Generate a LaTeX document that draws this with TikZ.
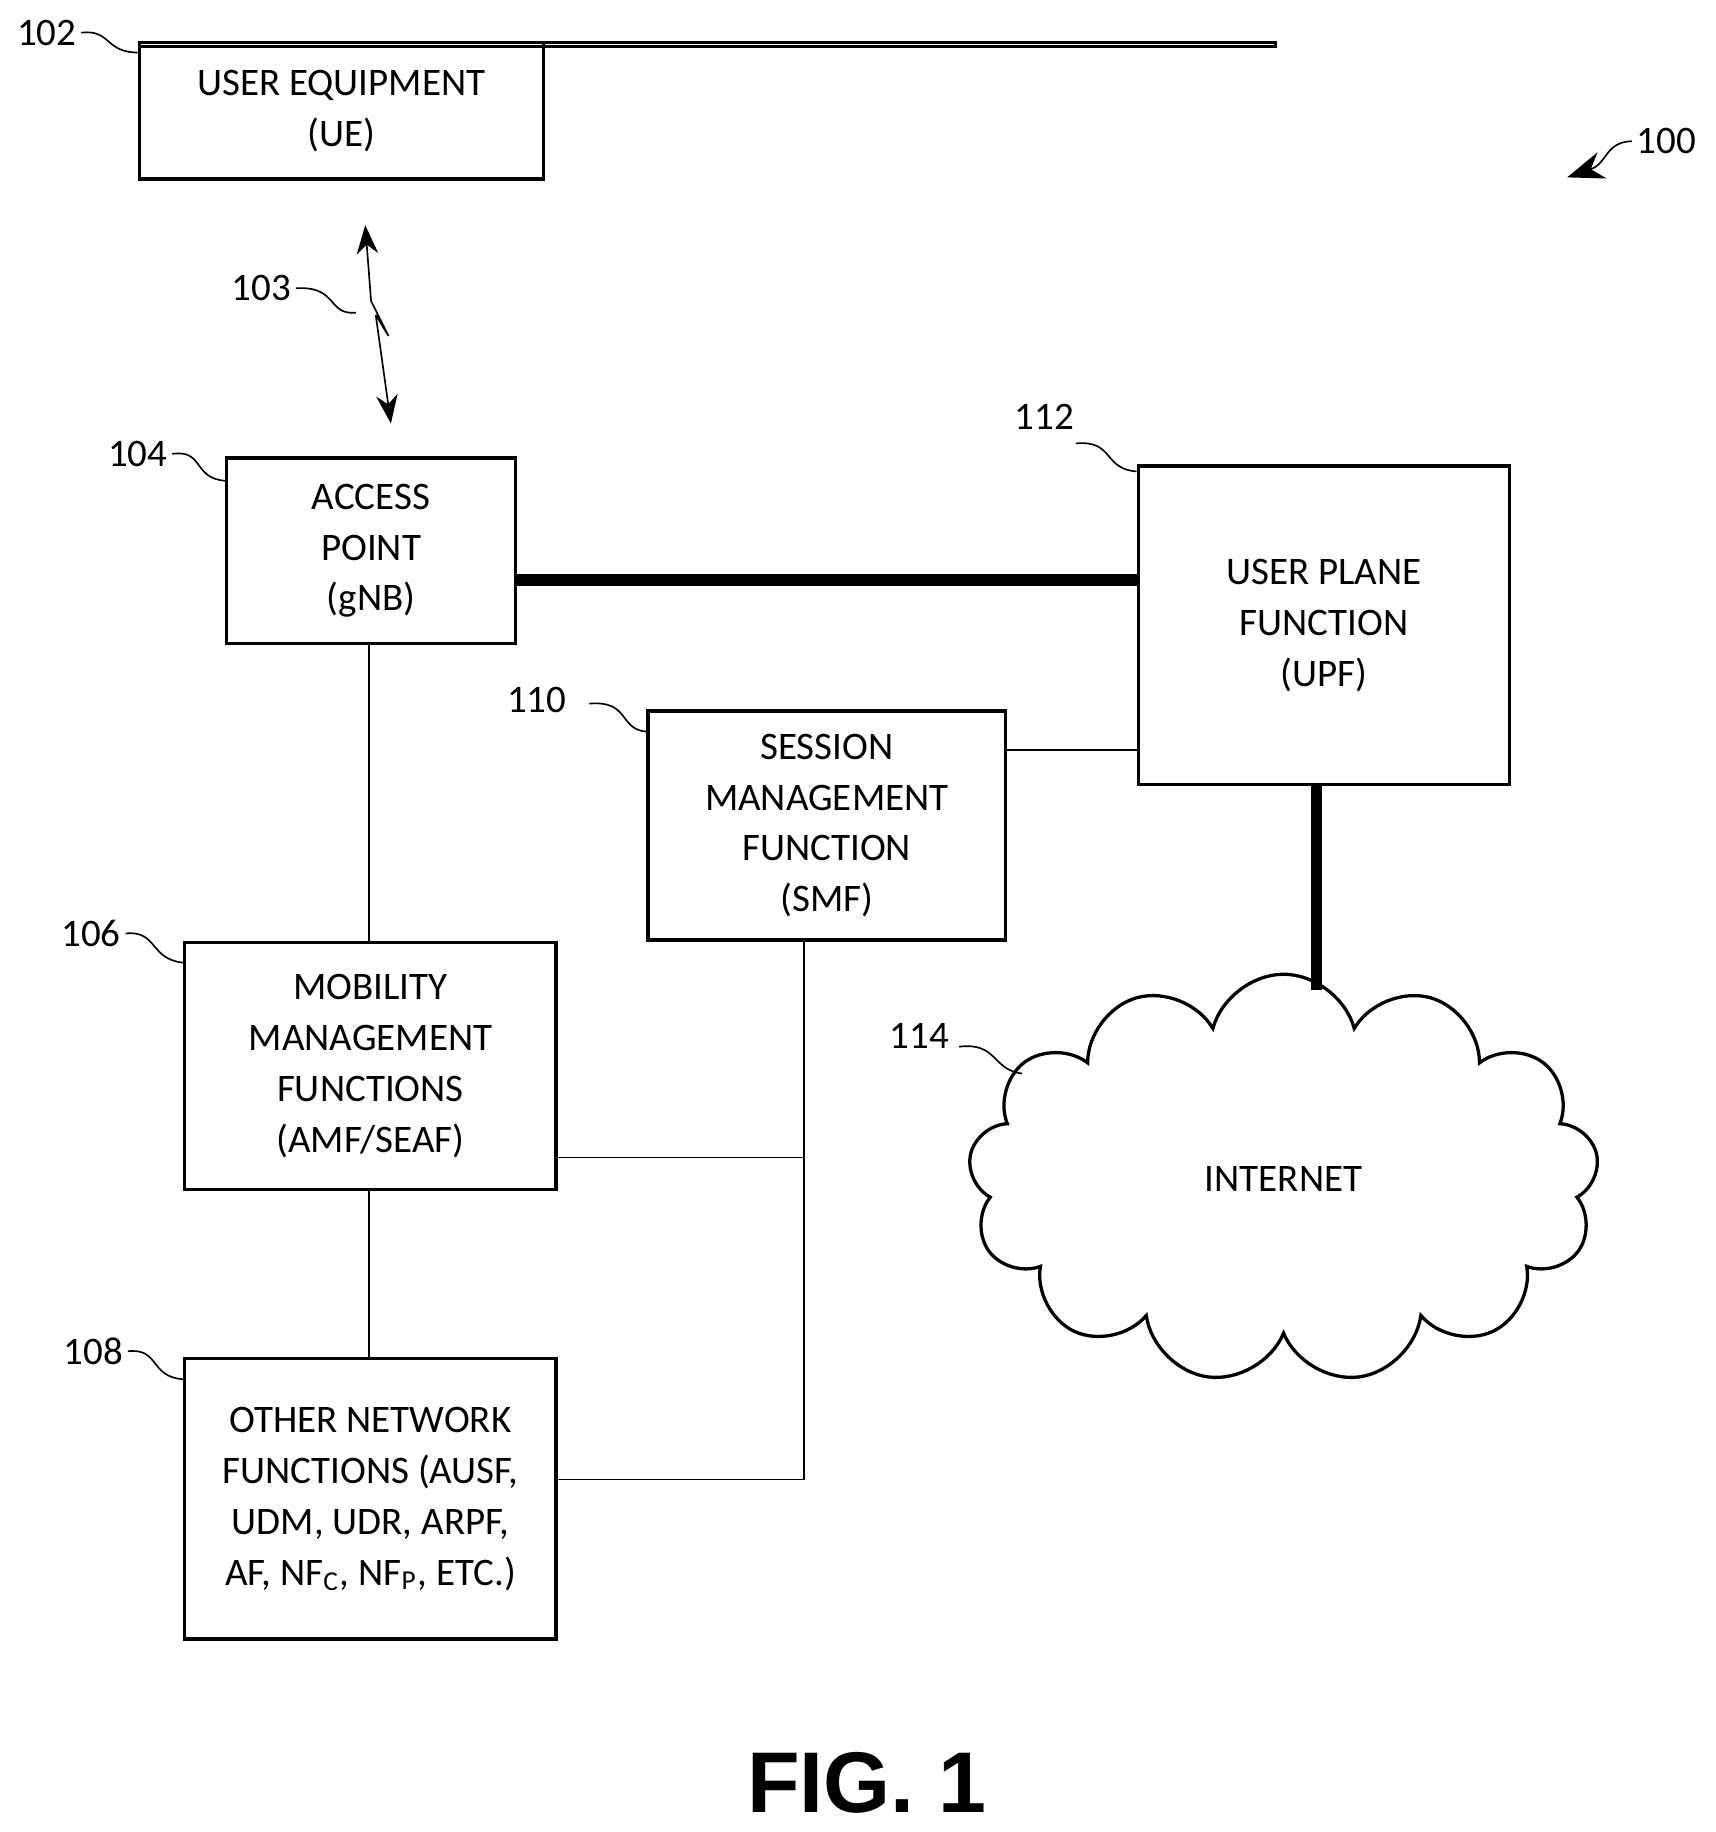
\documentclass[tikz,border=0pt]{standalone}
\usepackage{fontspec}
\setmainfont{Carlito}
\newfontfamily\figfont{Liberation Sans}
\usetikzlibrary{shapes.symbols,arrows.meta}
\begin{document}
\begin{tikzpicture}[x=0.01cm, y=-0.01cm, font=\fontsize{9.5}{12.4}\selectfont]
	\tikzset{boxStyle/.style = {draw, thick, align=center, anchor=north west, inner sep=0pt}}
	\tikzset{refStyle/.style = {inner sep=1pt}}
	\tikzset{leadStyle/.style = {thin}}
	\useasboundingbox (0,0) rectangle (1470,1570);
	% boxes
	\node[boxStyle, minimum width=346\pgflinewidth, text width=3.2cm] at (118,35) (ue) {};
	\node[boxStyle, minimum width=3.46cm, minimum height=1.17cm] at (118,35) (ue) {USER EQUIPMENT\\(UE)};
	\node[boxStyle, minimum width=2.47cm, minimum height=1.59cm] at (193,391) (ap) {ACCESS\\POINT\\(gNB)};
	\node[boxStyle, minimum width=3.18cm, minimum height=2.73cm] at (974,398) (upf) {USER PLANE\\FUNCTION\\(UPF)};
	\node[boxStyle, minimum width=3.06cm, minimum height=1.96cm] at (554,608) (smf) {SESSION\\MANAGEMENT\\FUNCTION\\(SMF)};
	\node[boxStyle, minimum width=3.18cm, minimum height=2.12cm] at (157,806) (amf) {MOBILITY\\MANAGEMENT\\FUNCTIONS\\(AMF/SEAF)};
	\node[boxStyle, minimum width=3.18cm, minimum height=2.40cm] at (157,1163) (onf) {OTHER NETWORK\\FUNCTIONS (AUSF,\\UDM, UDR, ARPF,\\AF, NF$_{\mathrm{C}}$, NF$_{\mathrm{P}}$, ETC.)};
	\node[cloud, draw, thick, cloud puffs=13, aspect=1.6, minimum width=5.4cm, minimum height=3.5cm] at (1100,1010) (net) {INTERNET};
	% links
	\draw[line width=2.8pt] (ap.east |- 0,497) -- (upf.west |- 0,497);
	\draw[line width=2.8pt] (upf.south -| 1128,0) -- (1128,848);
	\draw (ap.south -| 316,0) -- (amf.north -| 316,0);
	\draw (amf.south -| 316,0) -- (onf.north -| 316,0);
	\draw (smf.east |- 0,643) -- (upf.west |- 0,643);
	\coordinate (jn) at (689,992);
	\draw (smf.south -| 689,0) -- (689,1268) -- (onf.east |- 0,1268);
	\draw (amf.east |- jn) -- (jn);
	% wireless link
	\draw[-{Stealth[length=7pt]}] (318,258) -- (313,193);
	\draw (318,258) -- (333,288) -- (322,270);
	\draw[-{Stealth[length=7pt]}] (322,270) -- (335,363);
	% reference numerals
	\node[refStyle] (n102) at (40,28) {102};
	\draw[leadStyle] (n102.east) .. controls (95,25) and (90,45) .. (118,45);
	\node[refStyle] (n103) at (224,247) {103};
	\draw[leadStyle] (n103.east) .. controls (290,245) and (280,270) .. (305,268);
	\node[refStyle] (n104) at (118,389) {104};
	\draw[leadStyle] (n104.east) .. controls (175,385) and (165,410) .. (193,412);
	\node[refStyle] (n106) at (78,800) {106};
	\draw[leadStyle] (n106.east) .. controls (135,797) and (128,822) .. (157,825);
	\node[refStyle] (n108) at (80,1158) {108};
	\draw[leadStyle] (n108.east) .. controls (137,1155) and (128,1180) .. (157,1182);
	\node[refStyle] (n110) at (460,600) {110};
	\draw[leadStyle] (505,603) .. controls (540,600) and (530,625) .. (554,627);
	\node[refStyle] (n112) at (895,357) {112};
	\draw[leadStyle] (922,380) .. controls (955,377) and (945,402) .. (974,404);
	\node[refStyle] (n114) at (788,888) {114};
	\draw[leadStyle] (822,897) .. controls (855,893) and (850,917) .. (876,920);
	\node[refStyle] (n100) at (1428,121) {100};
	\draw[leadStyle, -{Stealth[length=9pt]}] (n100.west) .. controls (1375,122) and (1378,140) .. (1343,152);
	% figure label
	\node (fig) at (743,1528) {\figfont\bfseries\fontsize{21}{24}\selectfont FIG. 1};
\end{tikzpicture}
\end{document}
